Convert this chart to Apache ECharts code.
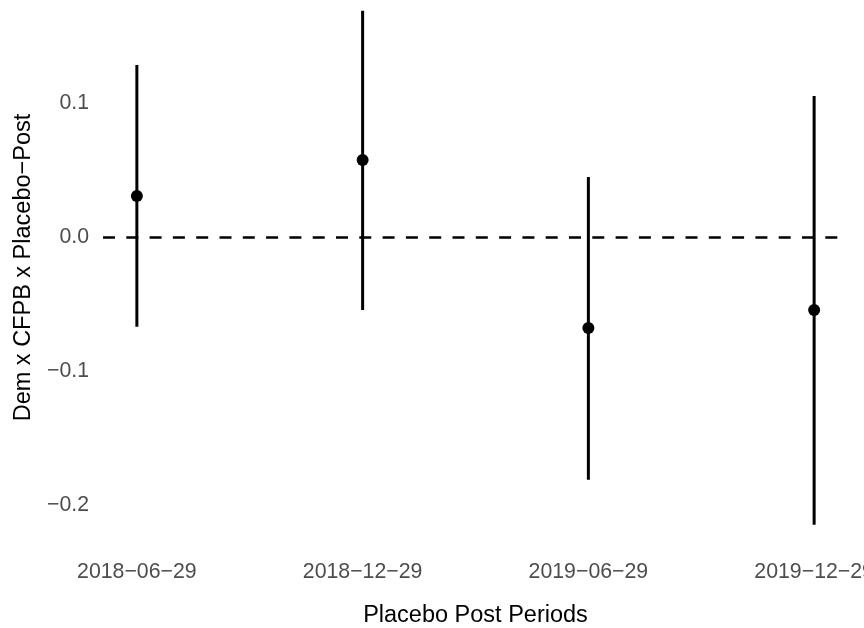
<!DOCTYPE html>
<html>
<head>
<meta charset="utf-8">
<script src="https://cdn.jsdelivr.net/npm/echarts@6/dist/echarts.min.js"></script>
<style>
html,body{margin:0;padding:0;background:#fff;overflow:hidden;}
#chart{width:864px;height:628px;}
</style>
</head>
<body>
<div id="chart"></div>
<script>
const categories = ['2018\u221206\u221229', '2018\u221212\u221229', '2019\u221206\u221229', '2019\u221212\u221229'];
const estimates = [0.0305, 0.0573, -0.0678, -0.0544];
const lowerCI = [-0.067, -0.0544, -0.181, -0.2144];
const upperCI = [0.128, 0.1685, 0.0447, 0.105];
const yTicks = [-0.2, -0.1, 0.0, 0.1];

const idx = categories.map((c, i) => i);
const barData = idx.map(i => [i, lowerCI[i], upperCI[i]]);
const pointData = idx.map(i => [i, estimates[i]]);

const fontFamily = '"Liberation Sans", Arial, Helvetica, sans-serif';
const chart = echarts.init(document.getElementById('chart'), null, {renderer: 'canvas'});
chart.setOption({
  backgroundColor: '#ffffff',
  animation: false,
  grid: {left: 103, right: 16, top: -15, bottom: 78, containLabel: false, outerBoundsMode: 'none'},
  xAxis: {
    type: 'value',
    min: -0.15,
    max: 3.15,
    name: 'Placebo Post Periods',
    nameLocation: 'middle',
    nameGap: 54,
    nameTextStyle: {color: '#000', fontSize: 23.5, fontFamily: fontFamily},
    axisLine: {show: false},
    axisTick: {show: false},
    splitLine: {show: false},
    axisLabel: {
      customValues: idx,
      formatter: v => categories[Math.round(v)],
      color: '#4d4d4d', fontSize: 21.3, fontFamily: fontFamily, margin: 12
    }
  },
  yAxis: {
    type: 'value',
    min: -0.2333,
    max: 0.1877,
    name: 'Dem x CFPB x Placebo\u2212Post',
    nameLocation: 'middle',
    nameGap: 67,
    nameTextStyle: {color: '#000', fontSize: 23.5, fontFamily: fontFamily},
    axisLine: {show: false},
    axisTick: {show: false},
    splitLine: {show: false},
    axisLabel: {
      customValues: yTicks,
      formatter: v => v.toFixed(1).replace('-', '\u2212'),
      color: '#4d4d4d', fontSize: 21.3, fontFamily: fontFamily, margin: 14,
      padding: [5, 0, 0, 0]
    }
  },
  series: [
    {
      type: 'custom',
      data: barData,
      renderItem: function (params, api) {
        const x = api.value(0);
        const p1 = api.coord([x, api.value(1)]);
        const p2 = api.coord([x, api.value(2)]);
        return {type: 'line', shape: {x1: p1[0], y1: p1[1], x2: p2[0], y2: p2[1]},
                style: {stroke: '#000', lineWidth: 3}};
      },
      clip: false,
      z: 2,
      markLine: {
        silent: true,
        symbol: 'none',
        label: {show: false},
        lineStyle: {color: '#000', type: [12, 11.3], width: 2.6, opacity: 1},
        data: [{yAxis: 0}]
      }
    },
    {
      type: 'scatter',
      data: pointData,
      symbol: 'circle',
      symbolSize: 12,
      itemStyle: {color: '#000', opacity: 1},
      z: 3
    }
  ]
});
</script>
</body>
</html>
